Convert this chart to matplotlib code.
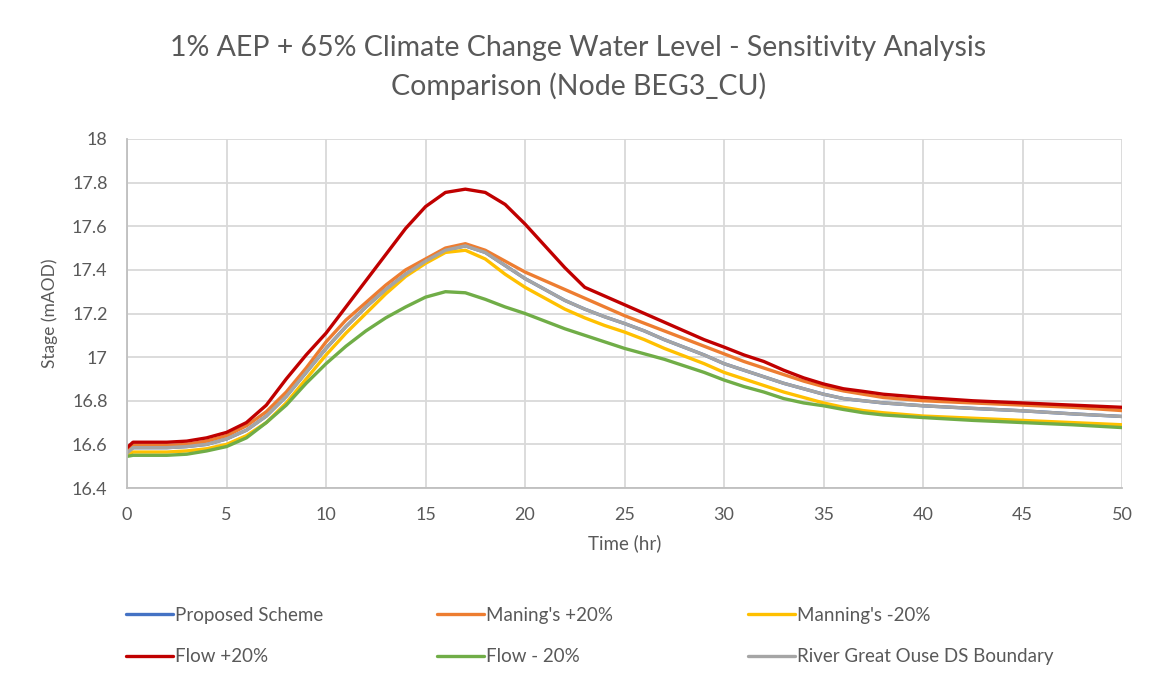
import matplotlib
matplotlib.use('Agg')
import matplotlib.pyplot as plt
from matplotlib.ticker import FuncFormatter

# time (hr)
time_hr = [0, 0.3, 1, 2, 3, 4, 5, 6, 7, 8, 9, 10, 11, 12, 13, 14, 15, 16, 17, 18, 19, 20,
           21, 22, 23, 24, 25, 26, 27, 28, 29, 30, 31, 32, 33, 34, 35, 36, 37, 38,
           40, 42.5, 45, 47.5, 50]

# stage (mAOD) per scenario
river_ds = [16.56, 16.585, 16.585, 16.585, 16.59, 16.60, 16.625, 16.665, 16.73, 16.82,
            16.93, 17.04, 17.14, 17.23, 17.31, 17.38, 17.44, 17.49, 17.51, 17.48,
            17.42, 17.36, 17.31, 17.26, 17.22, 17.185, 17.154, 17.12, 17.08, 17.045,
            17.01, 16.97, 16.94, 16.91, 16.88, 16.855, 16.83, 16.81, 16.80, 16.79,
            16.777, 16.765, 16.754, 16.74, 16.728]
proposed = list(river_ds)  # sits underneath the DS boundary run
manning_up = [16.57, 16.595, 16.595, 16.595, 16.60, 16.615, 16.64, 16.685, 16.75, 16.84,
              16.95, 17.07, 17.17, 17.25, 17.33, 17.40, 17.45, 17.50, 17.52, 17.49,
              17.44, 17.39, 17.35, 17.31, 17.27, 17.23, 17.19, 17.155, 17.12, 17.085,
              17.05, 17.015, 16.98, 16.95, 16.92, 16.89, 16.865, 16.845, 16.83, 16.815,
              16.80, 16.79, 16.78, 16.77, 16.755]
manning_dn = [16.55, 16.565, 16.565, 16.565, 16.57, 16.58, 16.60, 16.64, 16.70, 16.79,
              16.90, 17.01, 17.11, 17.20, 17.29, 17.37, 17.43, 17.48, 17.49, 17.45,
              17.38, 17.32, 17.27, 17.22, 17.18, 17.145, 17.115, 17.08, 17.04, 17.005,
              16.97, 16.93, 16.90, 16.87, 16.84, 16.815, 16.79, 16.77, 16.755, 16.745,
              16.73, 16.72, 16.71, 16.70, 16.69]
flow_up = [16.585, 16.61, 16.61, 16.61, 16.615, 16.63, 16.655, 16.70, 16.78, 16.90,
           17.01, 17.11, 17.23, 17.35, 17.47, 17.59, 17.69, 17.755, 17.77, 17.755,
           17.70, 17.61, 17.51, 17.41, 17.32, 17.28, 17.24, 17.20, 17.16, 17.12,
           17.08, 17.046, 17.01, 16.98, 16.94, 16.905, 16.877, 16.855, 16.843, 16.83,
           16.815, 16.80, 16.79, 16.78, 16.77]
flow_dn = [16.545, 16.55, 16.55, 16.55, 16.555, 16.57, 16.59, 16.63, 16.70, 16.78,
           16.88, 16.97, 17.05, 17.12, 17.18, 17.23, 17.275, 17.30, 17.295, 17.265,
           17.23, 17.20, 17.165, 17.13, 17.10, 17.07, 17.04, 17.015, 16.99, 16.96,
           16.93, 16.895, 16.865, 16.84, 16.81, 16.79, 16.777, 16.76, 16.745, 16.735,
           16.723, 16.71, 16.70, 16.69, 16.677]

labels = ["Proposed Scheme", "Maning's +20%", "Manning's -20%",
          "Flow +20%", "Flow - 20%", "River Great Ouse DS Boundary"]
colours = ['#4472C4', '#ED7D31', '#FFC000', '#C00000', '#70AD47', '#A5A5A5']
series = [proposed, manning_up, manning_dn, flow_up, flow_dn, river_ds]

txt = '#595959'
plt.rcParams['font.family'] = ['Lato', 'DejaVu Sans']

fig = plt.figure(figsize=(11.57, 6.86), dpi=100)
ax = fig.add_axes([0.1098, 0.2886, 0.86, 0.5088])

lines = []
for y, c, lab in zip(series, colours, labels):
    ln, = ax.plot(time_hr, y, color=c, lw=2.4, label=lab,
                  solid_capstyle='round', solid_joinstyle='round')
    lines.append(ln)

ax.set_xlim(0, 50)
ax.set_ylim(16.4, 18)
ax.set_xticks(range(0, 51, 5))
ax.set_yticks([16.4 + 0.2 * i for i in range(9)])
ax.yaxis.set_major_formatter(FuncFormatter(lambda v, p: '{:g}'.format(round(v, 1))))
ax.grid(True, color='#D9D9D9', lw=1.3)
ax.set_axisbelow(True)
for s in ['top', 'right']:
    ax.spines[s].set_visible(False)
for s in ['left', 'bottom']:
    ax.spines[s].set_color('#BFBFBF')
    ax.spines[s].set_linewidth(1.3)
ax.tick_params(length=0, labelsize=13, labelcolor=txt, pad=14)

ax.set_xlabel('Time (hr)', fontsize=13.5, color=txt, labelpad=8)
ax.set_ylabel('Stage (mAOD)', fontsize=12.5, color=txt, labelpad=10)

fig.text(0.5, 0.902, '1% AEP + 65% Climate Change Water Level - Sensitivity Analysis\nComparison (Node BEG3_CU)',
         ha='center', va='center', fontsize=20.5, color=txt, linespacing=1.5)

# legend: three columns, two rows
col_x = [126 / 1157, 437 / 1157, 748 / 1157]
for i, x0 in enumerate(col_x):
    hs = [lines[i], lines[i + 3]]
    leg = fig.legend(hs, [h.get_label() for h in hs], loc='upper left',
                     bbox_to_anchor=(x0, 1 - 607 / 686), frameon=False,
                     fontsize=13.5, handlelength=2.5, handletextpad=0.1,
                     labelspacing=1.3, borderpad=0, borderaxespad=0)
    for t in leg.get_texts():
        t.set_color(txt)

fig.savefig('out.png', dpi=100)
